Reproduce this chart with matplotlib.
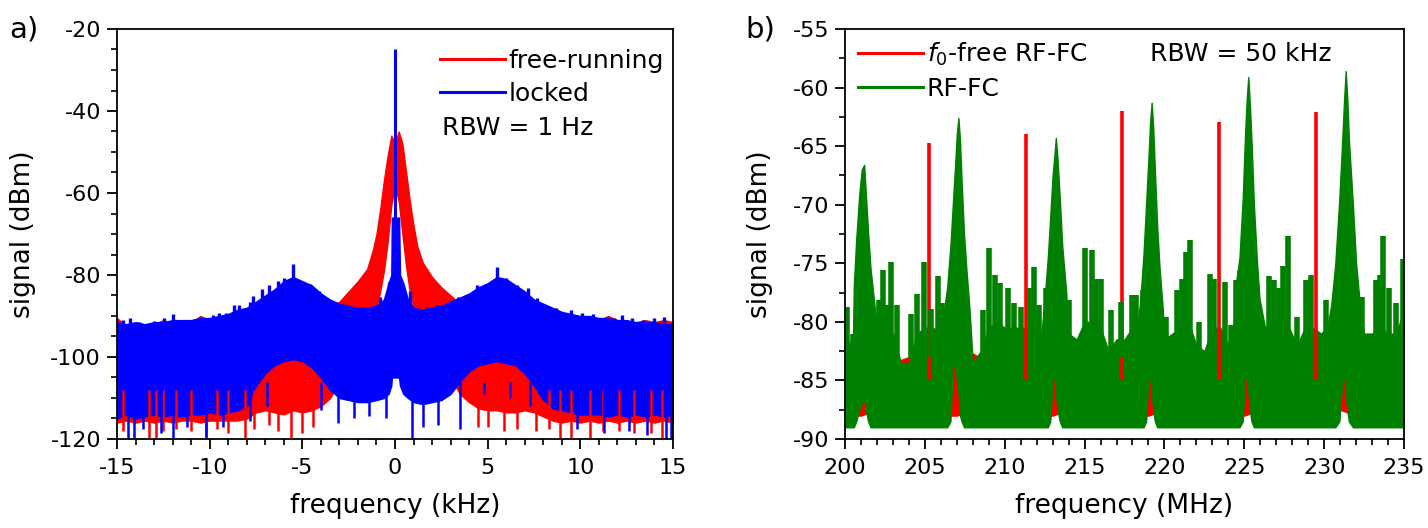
import numpy as np
import matplotlib
matplotlib.use('Agg')
import matplotlib.pyplot as plt
from matplotlib.ticker import MultipleLocator

plt.rcParams['font.family'] = 'DejaVu Sans'
plt.rcParams['mathtext.fontset'] = 'dejavusans'
plt.rcParams['axes.unicode_minus'] = False
plt.rcParams['axes.linewidth'] = 1.3

# ---------------- panel a): beat note, frequency in kHz, signal in dBm ----------------
# free-running trace: upper / lower envelope of the noisy band
free_f = [-15, -14.5, -14, -13.5, -13, -12.5, -12, -11.5, -11, -10.5, -10, -9.5, -9, -8.5,
          -8, -7.5, -7, -6.5, -6, -5.5, -5, -4.5, -4, -3.5, -3, -2.5, -2, -1.5,
          -1.2, -1, -0.8, -0.6, -0.4, -0.2, 0, 0.2, 0.4, 0.6, 0.8, 1, 1.2,
          1.5, 2, 2.5, 3, 3.5, 4, 4.5, 5, 5.5, 6, 6.5, 7, 7.5, 8, 8.5, 9, 9.5, 10,
          10.5, 11, 11.5, 12, 12.5, 13, 13.5, 14, 14.5, 15]
free_hi = [-90.5, -92.5, -92, -92.5, -92, -91, -92, -91.5, -91.5, -90, -91, -91, -90.5, -90.5,
           -90.5, -90, -90, -90, -90, -90, -90, -90, -90, -88, -86.5, -84, -81.5, -78.5,
           -74, -70, -64, -57, -51, -46, -48, -45, -48, -55, -62, -68, -73,
           -77, -80.5, -83, -85, -87, -90, -90, -90, -90, -90, -90, -90, -90, -90, -90.5, -91, -91, -91,
           -91, -91, -90, -91, -91.5, -91.5, -91, -91.5, -91, -91.5]
free_lo = [-116, -115.5, -116, -115.5, -116, -115.5, -116, -115.5, -115.5, -116, -115.5, -115.5, -115.5, -115.5,
           -115, -113.5, -113, -113.5, -114, -113, -113.5, -113, -112, -110, -106, -100, -95, -92,
           -90, -88, -84, -79, -72, -63, -58, -62, -70, -78, -84, -88, -90,
           -92, -95, -100, -105, -109, -111, -112.5, -113, -113, -113.5, -113.5, -113, -113.5, -114.5, -115.5, -116, -115.5, -116,
           -115.5, -116, -115.5, -116, -115.5, -116, -115.5, -116, -115.5, -116]
free_dip_f = [-14.7, -13.3, -12.9, -12.5, -11.8, -11.0, -10.2, -9.6, -9.0, -8.1, -7.6, -6.8, -6.3,
              -5.6, -5.0, -4.4, 4.5, 5.0, 5.9, 6.6, 7.6, 8.3, 8.9, 9.5, 10.5, 11.2, 12.1, 12.9, 13.8, 14.4]
free_dip_v = [-118, -120, -120, -118, -117.5, -118, -120, -117.5, -118.5, -120, -117.5, -116.5, -118,
              -120, -118.5, -117, -117, -117, -118, -117.5, -118, -117.5, -120, -120, -120, -118, -118, -118.5, -118.5, -120]

# locked trace
locked_f = [-15, -14.5, -14, -13.5, -13, -12.5, -12, -11.5, -11, -10.5, -10, -9.5, -9, -8.5,
            -8, -7.5, -7, -6.5, -6, -5.5, -5, -4.5, -4, -3.5, -3, -2.5, -2, -1.5, -1,
            -0.6, -0.35, -0.2, -0.17, 0.22, 0.27, 0.45, 0.7,
            1, 1.5, 2, 2.5, 3, 3.5, 4, 4.5, 5, 5.5, 6, 6.5, 7, 7.5, 8, 8.5, 9, 9.5, 10,
            10.5, 11, 11.5, 12, 12.5, 13, 13.5, 14, 14.5, 15]
locked_hi = [-91.5, -92, -91.5, -92, -91.5, -91.5, -91, -91, -91, -90.5, -90.5, -90, -89.5, -88.5,
             -88, -86.5, -85, -83.5, -81.5, -80.5, -81.5, -82.5, -84.5, -86, -87, -87.5, -88, -88, -87.5,
             -86, -82, -80, -66, -66, -80, -82, -86,
             -88, -88.5, -88, -87.5, -86.5, -85.5, -84.5, -83, -82, -80.5, -81, -82.5, -84, -86, -87, -88, -89, -89.5, -90,
             -90, -90.5, -90.5, -91, -91, -91.5, -91.5, -91.5, -92, -92]
locked_lo = [-115, -114, -115, -114.5, -114, -114.5, -114, -114.5, -114, -114, -113.5, -114, -113.5, -113,
             -112, -107, -104, -102, -101, -100.5, -101, -102.5, -105, -108, -110, -110.5, -111, -111, -110.5,
             -110, -109, -107, -105, -105, -107, -109, -110,
             -111, -111.5, -111, -110.5, -109, -106, -103.5, -102, -101.5, -101, -101.5, -102, -104, -107, -110.5, -112.5, -113, -113.5, -114,
             -114, -114, -114.5, -114, -114.5, -114, -114.5, -114, -114.5, -114]
locked_peak_f = 0.0
locked_peak_v = -25
locked_dip_f = [-14.4, -14.1, -13.6, -12.6, -12.0, -11.2, -10.2, -9.3, -7.8, -6.9, -4.0, -3.1, -2.2, -1.4,
                -0.5, 0.9, 1.5, 2.3, 3.5, 4.8, 6.2, 7.3, 9.8, 11.3, 12.6, 13.6, 14.6, 14.9]
locked_dip_v = [-120, -120, -117.5, -118.5, -120, -117, -119.5, -117, -115.5, -112, -113, -116, -115, -114.5,
                -115, -120, -117, -116.5, -117.5, -109, -110, -112, -117.5, -118.5, -118, -119, -120, -120]
locked_tip_f = [-14.7, -14.3, -13.8, -13.0, -12.45, -11.96, -11.3, -10.8, -10.3, -9.8,
                -9.5, -9.1, -8.7, -8.4, -7.85, -7.65, -7.2, -6.8, -6.3, -6.0,
                -5.5, -5.1, -4.6, -4.1, -3.8, -3.4, -3.0, -1.3, -0.8, -0.3,
                0.3, 0.8, 1.7, 2.25, 2.85, 3.4, 4.0, 4.4, 5.0, 5.5,
                6.0, 6.6, 7.15, 7.65, 8.1, 8.7, 9.5, 10.1, 10.7, 11.3,
                11.8, 12.25, 12.8, 13.4, 14.0, 14.5, 14.9]
locked_tip_v = [-91, -90.6, -91.4, -91.2, -90.6, -89.6, -91, -90.7, -90.8, -89.8,
                -89.3, -89.3, -87.2, -87.3, -86.5, -85.1, -83.4, -82.4, -81.5, -80.7,
                -77.4, -82, -82.3, -83.9, -86.1, -86.5, -87.3, -88.1, -85.3, -81.6,
                -84, -84, -87.7, -87.3, -88.8, -85.3, -85.7, -82.4, -82.8, -78,
                -80.8, -82.4, -83.1, -85.7, -87.3, -88.1, -88.5, -89.3, -89.6, -91,
                -90.6, -89.8, -90.6, -91, -90.6, -90.2, -91.8]

# ---------------- panel b): RF comb, frequency in MHz, signal in dBm ----------------
fc_f = [200.0, 200.25, 200.5,
        200.55, 200.7, 200.9, 201.05, 201.2, 201.3, 201.45, 201.6, 201.8, 202.0,
        202.5, 203.0, 203.5, 204.0, 204.5, 205.0, 205.5, 206.0,
        206.4, 206.6, 206.75, 206.9, 207.0, 207.1, 207.2, 207.3, 207.45, 207.6, 207.8,
        208.0, 208.5, 209.0, 209.5, 210.0, 210.5, 211.0, 211.5, 212.0, 212.3,
        212.5, 212.7, 212.85, 213.0, 213.1, 213.2, 213.3, 213.45, 213.6, 213.85,
        214.0, 214.5, 215.0, 215.5, 216.0, 216.5, 217.0, 217.5, 218.0, 218.3,
        218.5, 218.7, 218.85, 219.0, 219.1, 219.2, 219.3, 219.4, 219.55, 219.7, 219.9,
        220.0, 220.5, 221.0, 221.5, 222.0, 222.5, 223.0, 223.5, 224.0, 224.3,
        224.5, 224.7, 224.9, 225.05, 225.15, 225.25, 225.35, 225.45, 225.6, 225.8, 225.95,
        226.3, 226.8, 227.3, 227.8, 228.3, 228.8, 229.3, 229.8, 230.2,
        230.45, 230.7, 230.95, 231.15, 231.25, 231.35, 231.45, 231.55, 231.8, 232.0, 232.2,
        232.5, 233.0, 233.5, 234.0, 234.5, 235.0]
fc_hi = [-80, -82, -81.5,
         -77, -73, -69, -67, -66.6, -69, -72.5, -75.5, -78, -80.5,
         -80.5, -81, -83.5, -83.5, -81, -80.5, -80.5, -81,
         -77, -73.5, -70, -66.5, -64, -62.6, -64.5, -68, -72.5, -75.5, -79,
         -83.5, -82.5, -80.5, -80, -80.5, -80.5, -80.5, -80.5, -80.5, -81,
         -78, -74.5, -71, -67.5, -66, -64.3, -66, -69.5, -73.5, -77.5,
         -81, -81.5, -80, -80, -80.5, -82.5, -81.5, -81.5, -80.5, -80.5,
         -78, -74, -70, -66, -63, -61.3, -63.5, -67, -72, -75.5, -79,
         -81.5, -81, -80.5, -80, -82, -82.5, -80.5, -80.5, -82, -81,
         -76.5, -74.5, -69.5, -64, -61, -59.1, -61.5, -64.5, -70, -75, -78,
         -80.5, -80, -80, -80.5, -82, -80.5, -80.5, -81, -80.5,
         -78.5, -75, -69.5, -64, -61, -58.6, -61, -64.5, -70, -75, -78,
         -81, -81, -80.5, -81, -81, -79]
fc_lo = [-89, -89, -89,
         -89, -88.5, -87.5, -87, -86.5, -87.5, -88.5, -89, -89, -89,
         -89, -89, -89, -89, -89, -89, -89, -89,
         -89, -88.5, -84, -83.5, -85, -86, -88, -88.5, -89, -89, -89,
         -89, -89, -89, -89, -89, -89, -89, -89, -89, -89,
         -89, -89, -88.5, -85, -84.5, -86, -87.5, -88.5, -89, -89,
         -89, -89, -89, -89, -89, -89, -89, -89, -89, -89,
         -89, -89, -88.5, -85, -84.5, -86, -87.5, -88.5, -89, -89, -89,
         -89, -89, -89, -89, -89, -89, -89, -89, -89, -89,
         -89, -89, -88.5, -85, -84.5, -86, -87.5, -88.5, -89, -89, -89,
         -89, -89, -89, -89, -89, -89, -89, -89, -89,
         -89, -89, -88.5, -85, -84.5, -86, -87.5, -88.5, -89, -89, -89,
         -89, -89, -89, -89, -89, -89]
fc_tip_f = [200.0, 200.11, 200.5, 202.14, 202.36, 202.65, 202.88, 203.26, 204.16, 204.5, 204.94,
            205.39, 205.8, 206.1, 206.63, 208.65, 208.99, 209.4, 209.7, 210.23, 210.56, 211.01,
            211.58, 211.85, 212.14, 212.59, 213.71, 214.05, 215.01, 215.46, 215.73, 216.0, 216.63,
            217.26, 217.98, 218.25, 218.66, 220.12, 220.79, 221.08, 221.35, 221.62, 222.14, 222.88,
            223.11, 223.78, 224.16, 224.5, 224.72, 226.52, 226.86, 227.2, 227.42, 227.76, 228.32,
            228.88, 229.18, 230.12, 230.68, 232.37, 233.22, 233.49, 233.71, 234.05, 234.5, 234.95]
fc_tip_v = [-79, -78.7, -81, -78.1, -75.6, -78.6, -74.9, -78.6, -79.3, -77.6, -74.9,
            -78.9, -76.1, -78.4, -75.9, -79, -73.7, -76, -76.7, -77.1, -78.4, -78.7,
            -77.1, -75.3, -78.6, -77.1, -78.4, -78.1, -73.7, -73.9, -76.3, -76.3, -79,
            -78.3, -77.7, -77.7, -77.3, -79.6, -77.3, -76.3, -74, -73, -80, -75.9,
            -76.3, -76.6, -80.3, -76.4, -75.7, -76.1, -76.4, -77.1, -75.2, -72.7, -79.6,
            -76.4, -76, -78.1, -78.1, -77.9, -76.4, -76, -72.7, -77.1, -78.4, -74.6]

f0_f = [200, 201, 202, 203, 204, 205, 206, 207, 208, 209, 210, 211, 212, 213, 214, 215, 216, 217,
        218, 219, 220, 221, 222, 223, 224, 225, 226, 227, 228, 229, 230, 231, 232, 233, 234, 235]
f0_hi = [-84, -83.5, -83, -83.5, -83, -83.5, -83, -82.7, -82.7, -83.5, -83, -83.5, -83, -83, -83.5, -83, -83.5, -83,
         -83.5, -83, -83.5, -83, -83.5, -83, -83.5, -83, -83.5, -83, -83.5, -83, -83.5, -83, -83.5, -83, -83.5, -83]
f0_lo = [-88, -88, -87.5, -88, -87.5, -88, -88, -88, -87.5, -88, -88, -87.5, -88, -88, -87.5, -88, -88, -87.5,
         -88, -88, -87.5, -88, -88, -87.5, -88, -88, -87.5, -88, -88, -87.5, -88, -87.5, -88, -87.5, -88, -88]
f0_spike_f = [205.28, 211.31, 217.35, 223.4, 229.47]
f0_spike_v = [-64.7, -64.0, -62.0, -62.9, -62.1]

RED = '#ff0000'
BLUE = '#0000ff'
GREEN = '#008000'

fig = plt.figure(figsize=(14.28, 5.28), dpi=100)
ax1 = fig.add_axes([117 / 1428, 89 / 528, 556 / 1428, 410 / 528])
ax2 = fig.add_axes([845 / 1428, 89 / 528, 559 / 1428, 410 / 528])

# ---- panel a ----
ax1.fill_between(free_f, free_lo, free_hi, facecolor=RED, edgecolor=RED, linewidth=1.0)
ax1.vlines(free_dip_f, -108, free_dip_v, color=RED, linewidth=1.8)
ax1.plot([], [], color=RED, label='free-running')

ax1.fill_between(locked_f, locked_lo, locked_hi, facecolor=BLUE, edgecolor=BLUE, linewidth=1.0)
ax1.vlines(locked_dip_f, -106, locked_dip_v, color=BLUE, linewidth=1.8)
ax1.vlines(locked_tip_f, -95, locked_tip_v, color=BLUE, linewidth=2.4)
ax1.vlines([locked_peak_f], -70, [locked_peak_v], color=BLUE, linewidth=2.2)
ax1.plot([], [], color=BLUE, label='locked')

ax1.set_xlim(-15, 15)
ax1.set_ylim(-120, -20)
ax1.xaxis.set_major_locator(MultipleLocator(5))
ax1.xaxis.set_minor_locator(MultipleLocator(1))
ax1.yaxis.set_major_locator(MultipleLocator(20))
ax1.yaxis.set_minor_locator(MultipleLocator(5))
ax1.set_xlabel('frequency (kHz)', fontsize=19, labelpad=11)
ax1.set_ylabel('signal (dBm)', fontsize=19, labelpad=10)
leg1 = ax1.legend(loc='upper left', bbox_to_anchor=(0.581, 0.952), frameon=False, fontsize=18,
                  borderpad=0, borderaxespad=0, handlelength=2.6, handletextpad=0.15,
                  labelspacing=0.37)
for ln in leg1.get_lines():
    ln.set_linewidth(2.2)
ax1.text(0.584, 0.759, 'RBW = 1 Hz', transform=ax1.transAxes, fontsize=18, va='center', ha='left')

# ---- panel b ----
ax2.fill_between(f0_f, f0_lo, f0_hi, facecolor=RED, edgecolor=RED, linewidth=1.0)
ax2.vlines(f0_spike_f, -85, f0_spike_v, color=RED, linewidth=2.6)
ax2.plot([], [], color=RED, label=r'$f_0$-free RF-FC')

ax2.fill_between(fc_f, fc_lo, fc_hi, facecolor=GREEN, edgecolor=GREEN, linewidth=1.0)
ax2.vlines(fc_tip_f, -83, fc_tip_v, color=GREEN, linewidth=4.0)
ax2.plot([], [], color=GREEN, label='RF-FC')

ax2.set_xlim(200, 235)
ax2.set_ylim(-90, -55)
ax2.xaxis.set_major_locator(MultipleLocator(5))
ax2.xaxis.set_minor_locator(MultipleLocator(1))
ax2.yaxis.set_major_locator(MultipleLocator(5))
ax2.yaxis.set_minor_locator(MultipleLocator(2.5))
ax2.set_xlabel('frequency (MHz)', fontsize=19, labelpad=11)
ax2.set_ylabel('signal (dBm)', fontsize=19, labelpad=14)
leg2 = ax2.legend(loc='upper left', bbox_to_anchor=(0.023, 0.972), frameon=False, fontsize=18,
                  borderpad=0, borderaxespad=0, handlelength=2.6, handletextpad=0.15,
                  labelspacing=0.37)
for ln in leg2.get_lines():
    ln.set_linewidth(2.2)
ax2.text(0.546, 0.940, 'RBW = 50 kHz', transform=ax2.transAxes, fontsize=18, va='center', ha='left')

for ax in (ax1, ax2):
    ax.tick_params(which='both', direction='out', top=False, right=False, labelsize=16)
    ax.tick_params(which='major', length=7.5, width=1.3)
    ax.tick_params(which='minor', length=4, width=1.2)
    ax.tick_params(axis='x', pad=6)
    ax.tick_params(axis='y', pad=4)

fig.text(9 / 1428, 1 - 29.6 / 528, 'a)', fontsize=21, va='center', ha='left')
fig.text(745 / 1428, 1 - 29.6 / 528, 'b)', fontsize=21, va='center', ha='left')

fig.savefig('out.png', dpi=100)
